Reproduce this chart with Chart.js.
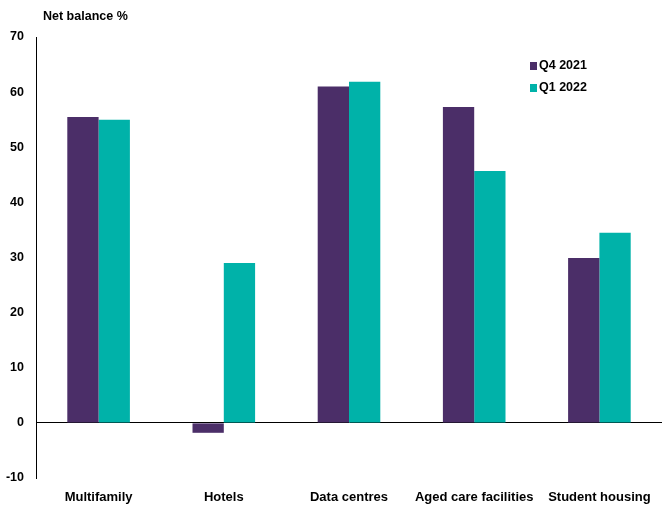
<!DOCTYPE html>
<html>
<head>
<meta charset="utf-8">
<script src="https://cdn.jsdelivr.net/npm/chart.js@4/dist/chart.umd.min.js"></script>
<style>
  html, body { margin: 0; padding: 0; background: #fff; }
  #wrap { width: 662px; height: 506px; }
</style>
</head>
<body>
<div id="wrap"><canvas id="balanceChart" width="662" height="506"></canvas></div>
<script>
const categories = ['Multifamily', 'Hotels', 'Data centres', 'Aged care facilities', 'Student housing'];
const q4_2021 = [55.5, -1.8, 61.0, 57.3, 29.9];
const q1_2022 = [55.0, 29.0, 61.9, 45.7, 34.5];
const yTicks = [-10, 0, 10, 20, 30, 40, 50, 60, 70];

const FONT = "'Liberation Sans', Arial, sans-serif";

// Axis title, category labels and legend drawn by hand
const extrasPlugin = {
    id: 'extras',
    afterDraw(chart) {
        const ctx = chart.ctx;
        ctx.save();
        ctx.font = 'bold 12.5px ' + FONT;
        ctx.fillStyle = '#000';
        ctx.textBaseline = 'middle';
        ctx.textAlign = 'left';
        ctx.fillText('Net balance %', 43, 17);

        chart.data.datasets.forEach((ds, i) => {
            const y = 66 + i * 22;
            ctx.fillStyle = ds.backgroundColor;
            ctx.fillRect(530, y - 4, 7, 8);
            ctx.fillStyle = '#000';
            ctx.fillText(ds.label, 539, y);
        });

        const xs = chart.scales.x;
        ctx.textAlign = 'center';
        ctx.textBaseline = 'alphabetic';
        ctx.font = 'bold 13px ' + FONT;
        chart.data.labels.forEach((lab, i) => {
            ctx.fillText(lab, xs.getPixelForTick(i), 501);
        });
        ctx.restore();
    }
};

const ctx = document.getElementById('balanceChart').getContext('2d');
new Chart(ctx, {
    type: 'bar',
    data: {
        labels: categories,
        datasets: [
            { label: 'Q4 2021', data: q4_2021, backgroundColor: '#4B2E68' },
            { label: 'Q1 2022', data: q1_2022, backgroundColor: '#00B2A9' }
        ]
    },
    options: {
        responsive: false,
        animation: false,
        layout: { padding: { top: 37, right: 0, bottom: 0, left: 0 } },
        datasets: {
            bar: { categoryPercentage: 0.5, barPercentage: 1.0 }
        },
        plugins: {
            legend: { display: false },
            tooltip: { enabled: false }
        },
        scales: {
            x: {
                grid: { display: false },
                border: { display: false },
                afterFit(scale) { scale.height = 28; },
                ticks: {
                    display: false,
                    autoSkip: false
                }
            },
            y: {
                min: -10,
                max: 70,
                afterBuildTicks(scale) {
                    scale.ticks = yTicks.map(v => ({ value: v }));
                },
                afterFit(scale) { scale.width = 36; },
                grid: {
                    drawTicks: false,
                    color: c => (c.tick && c.tick.value === 0) ? '#000' : 'rgba(0,0,0,0)',
                    lineWidth: 1
                },
                border: { display: true, color: '#000', width: 1 },
                ticks: {
                    color: '#000',
                    padding: 12,
                    font: { family: FONT, size: 12.5, weight: 'bold' }
                }
            }
        }
    },
    plugins: [extrasPlugin]
});
</script>
</body>
</html>
